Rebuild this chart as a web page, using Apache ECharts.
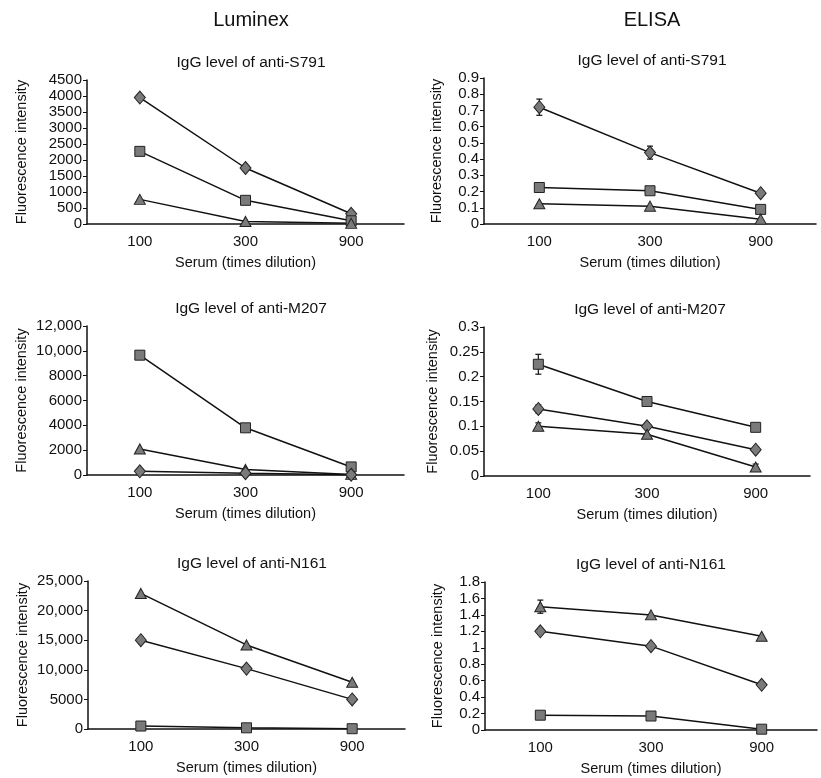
<!DOCTYPE html>
<html>
<head>
<meta charset="utf-8">
<script src="https://cdn.jsdelivr.net/npm/echarts@6/dist/echarts.min.js"></script>
<style>html,body{margin:0;background:#fff}#main{width:821px;height:778px}</style>
</head>
<body>
<div id="main"></div>
<script>
var dilutions = ['100', '300', '900'];

// Luminex
var lumS791Diamond = [3950, 1750, 320];
var lumS791Square = [2270, 740, 100];
var lumS791Triangle = [770, 80, 20];

var lumM207Square = [9650, 3800, 650];
var lumM207Triangle = [2100, 450, 50];
var lumM207Diamond = [300, 150, 20];

var lumN161Triangle = [22900, 14200, 7900];
var lumN161Diamond = [15000, 10200, 5000];
var lumN161Square = [500, 200, 50];

// ELISA (values and error half-widths)
var elisaS791Diamond = [0.72, 0.44, 0.19];
var elisaS791DiamondErr = [0.05, 0.04, 0];
var elisaS791Square = [0.225, 0.205, 0.09];
var elisaS791Triangle = [0.125, 0.11, 0.03];

var elisaM207Square = [0.225, 0.15, 0.098];
var elisaM207SquareErr = [0.02, 0, 0];
var elisaM207Diamond = [0.135, 0.1, 0.053];
var elisaM207DiamondErr = [0.008, 0, 0];
var elisaM207Triangle = [0.1, 0.084, 0.018];
var elisaM207TriangleErr = [0.007, 0, 0.006];

var elisaN161Triangle = [1.5, 1.4, 1.14];
var elisaN161TriangleErr = [0.08, 0, 0];
var elisaN161Diamond = [1.2, 1.02, 0.55];
var elisaN161DiamondErr = [0.03, 0, 0];
var elisaN161Square = [0.18, 0.17, 0.01];

var FONT = 'Liberation Sans';
var myChart = echarts.init(document.getElementById('main'));

var symbols = {
    diamond: { symbol: 'diamond', size: [11, 13] },
    square: { symbol: 'rect', size: [10, 10] },
    triangle: { symbol: 'triangle', size: [11, 10] }
};

function commaFmt(v) {
    return v >= 10000 ? v.toLocaleString('en-US') : String(v);
}

var grids = [], xAxes = [], yAxes = [], series = [], titles = [];

function addPanel(title, titleX, left, top, width, height, max, interval, nameGap, lines) {
    var i = grids.length;
    grids.push({ left: left, top: top, width: width, height: height });
    titles.push({
        text: title, left: titleX, top: top - 30,
        textAlign: 'center',
        textStyle: { fontFamily: FONT, fontSize: 15.5, fontWeight: 'normal', color: '#111' }
    });
    xAxes.push({
        type: 'category', gridIndex: i, data: dilutions, boundaryGap: true,
        name: 'Serum (times dilution)', nameLocation: 'middle', nameGap: 31,
        nameTextStyle: { fontFamily: FONT, fontSize: 14.5, color: '#111' },
        axisLine: { lineStyle: { color: '#111', width: 1.5 } },
        axisTick: { inside: true, length: 4, lineStyle: { color: '#111' } },
        axisLabel: { fontFamily: FONT, fontSize: 15, color: '#111', margin: 10 }
    });
    yAxes.push({
        type: 'value', gridIndex: i, min: 0, max: max, interval: interval,
        name: 'Fluorescence intensity', nameLocation: 'middle', nameGap: nameGap,
        nameTextStyle: { fontFamily: FONT, fontSize: 14.5, color: '#111' },
        axisLine: { show: true, lineStyle: { color: '#111', width: 1.5 } },
        axisTick: { show: true, length: 4, lineStyle: { color: '#111' } },
        splitLine: { show: false },
        axisLabel: { fontFamily: FONT, fontSize: 15, color: '#111', margin: 5, formatter: commaFmt }
    });
    lines.forEach(function (ln) {
        if (ln.err) {
            series.push({
                type: 'custom', xAxisIndex: i, yAxisIndex: i, z: 1,
                data: ln.data.map(function (v, k) { return [k, v - ln.err[k], v + ln.err[k]]; })
                    .filter(function (d) { return d[2] - d[1] > 0; }),
                renderItem: function (params, api) {
                    var lo = api.coord([api.value(0), api.value(1)]);
                    var hi = api.coord([api.value(0), api.value(2)]);
                    var c = 3;
                    var st = { stroke: '#111', lineWidth: 1.2 };
                    return {
                        type: 'group', children: [
                            { type: 'line', shape: { x1: lo[0], y1: lo[1], x2: hi[0], y2: hi[1] }, style: st },
                            { type: 'line', shape: { x1: lo[0] - c, y1: lo[1], x2: lo[0] + c, y2: lo[1] }, style: st },
                            { type: 'line', shape: { x1: hi[0] - c, y1: hi[1], x2: hi[0] + c, y2: hi[1] }, style: st }
                        ]
                    };
                }
            });
        }
        series.push({
            type: 'line', xAxisIndex: i, yAxisIndex: i, z: 3,
            data: ln.data,
            symbol: symbols[ln.sym].symbol,
            symbolSize: symbols[ln.sym].size,
            showSymbol: true,
            lineStyle: { color: '#111', width: 1.5 },
            itemStyle: { color: '#7a7a7a', borderColor: '#222', borderWidth: 1 }
        });
    });
}

var LX = 87, LW = 317, RX = 484, RW = 332;

addPanel('IgG level of anti-S791', 246, LX, 80, LW, 144, 4500, 500, 58, [
    { sym: 'diamond', data: lumS791Diamond },
    { sym: 'square', data: lumS791Square },
    { sym: 'triangle', data: lumS791Triangle }
]);
addPanel('IgG level of anti-S791', 647, RX, 78, RW, 146, 0.9, 0.1, 40, [
    { sym: 'diamond', data: elisaS791Diamond, err: elisaS791DiamondErr },
    { sym: 'square', data: elisaS791Square },
    { sym: 'triangle', data: elisaS791Triangle }
]);
addPanel('IgG level of anti-M207', 246, LX, 326, LW, 149, 12000, 2000, 58, [
    { sym: 'square', data: lumM207Square },
    { sym: 'triangle', data: lumM207Triangle },
    { sym: 'diamond', data: lumM207Diamond }
]);
addPanel('IgG level of anti-M207', 645, RX, 327, RW - 6, 149, 0.3, 0.05, 44, [
    { sym: 'square', data: elisaM207Square, err: elisaM207SquareErr },
    { sym: 'diamond', data: elisaM207Diamond, err: elisaM207DiamondErr },
    { sym: 'triangle', data: elisaM207Triangle, err: elisaM207TriangleErr }
]);
addPanel('IgG level of anti-N161', 247, LX + 1, 581, LW, 148, 25000, 5000, 58, [
    { sym: 'triangle', data: lumN161Triangle },
    { sym: 'diamond', data: lumN161Diamond },
    { sym: 'square', data: lumN161Square }
]);
addPanel('IgG level of anti-N161', 646, RX + 1, 582, RW, 148, 1.8, 0.2, 40, [
    { sym: 'triangle', data: elisaN161Triangle, err: elisaN161TriangleErr },
    { sym: 'diamond', data: elisaN161Diamond, err: elisaN161DiamondErr },
    { sym: 'square', data: elisaN161Square }
]);

titles.push({
    text: 'Luminex', left: 246, top: 5, textAlign: 'center',
    textStyle: { fontFamily: FONT, fontSize: 20, fontWeight: 'normal', color: '#111' }
});
titles.push({
    text: 'ELISA', left: 647, top: 5, textAlign: 'center',
    textStyle: { fontFamily: FONT, fontSize: 20, fontWeight: 'normal', color: '#111' }
});

myChart.setOption({
    animation: false,
    backgroundColor: '#fff',
    title: titles,
    grid: grids,
    xAxis: xAxes,
    yAxis: yAxes,
    series: series
});
</script>
</body>
</html>
